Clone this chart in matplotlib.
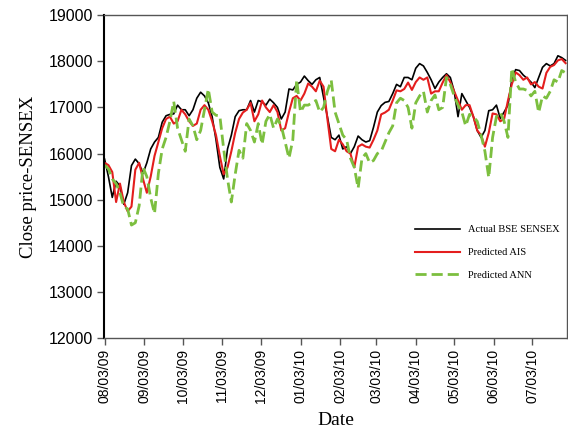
import matplotlib
matplotlib.use("Agg")
import matplotlib.pyplot as plt
import matplotlib.dates as mdates
import pandas as pd

dates = pd.date_range("2009-08-03", periods=121, freq="3D")

actual = [15880, 15500, 15050, 15400, 15300, 14900, 15150, 15740, 15880, 15780,
          15570, 15800, 16100, 16250, 16350, 16680, 16820, 16850, 16860, 17050,
          16950, 16950, 16820, 16950, 17200, 17330, 17250, 17100, 16800, 16300,
          15700, 15450, 16100, 16400, 16800, 16930, 16950, 16950, 17150, 16900,
          17150, 17120, 17050, 17180, 17100, 17000, 16750, 16900, 17400, 17380,
          17500, 17550, 17680, 17580, 17500, 17600, 17650, 17220, 16800, 16350,
          16300, 16400, 16100, 16150, 16000, 16150, 16380, 16300, 16250, 16280,
          16570, 16900, 17040, 17110, 17130, 17300, 17500, 17450, 17650, 17650,
          17600, 17850, 17950, 17900, 17760, 17600, 17410, 17550, 17650, 17730,
          17650, 17350, 16800, 17300, 17150, 17000, 16800, 16500, 16350, 16500,
          16930, 16950, 17050, 16760, 16900, 17050, 17600, 17820, 17800, 17700,
          17630, 17550, 17430, 17650, 17870, 17950, 17900, 17950, 18120, 18080,
          18020]

ais = [15800, 15750, 15600, 14950, 15350, 14950, 14750, 14850, 15650, 15800,
       15450, 15150, 15500, 15950, 16250, 16550, 16750, 16800, 16650, 16700,
       16950, 16850, 16700, 16600, 16650, 16950, 17050, 16950, 16700, 16400,
       15950, 15550, 15700, 16050, 16450, 16750, 16890, 16950, 17100, 16700,
       16850, 17150, 17000, 16900, 17050, 16900, 16500, 16550, 16900, 17200,
       17250, 17150, 17300, 17520, 17450, 17350, 17580, 17450, 16750, 16100,
       16050, 16300, 16200, 16050, 16000, 15700, 16150, 16200, 16150, 16130,
       16300, 16500, 16850, 16890, 16950, 17150, 17370, 17350, 17400, 17540,
       17380, 17550, 17650, 17600, 17650, 17300, 17350, 17350, 17540, 17700,
       17550, 17350, 17150, 16950, 17050, 17050, 16800, 16500, 16400, 16150,
       16450, 16870, 16850, 16700, 16750, 17150, 17500, 17760, 17700, 17600,
       17650, 17500, 17550, 17450, 17410, 17750, 17880, 17920, 18020, 18050,
       17960]

ann = [15750, 15670, 15450, 15350, 15150, 14850, 14800, 14450, 14500, 14870,
       15700, 15500, 15040, 14700, 15570, 16100, 16350, 16700, 17130, 16550,
       16300, 16050, 16750, 16600, 16300, 16500, 16950, 17400, 16900, 16830,
       16820, 16100, 15450, 14950, 15550, 16070, 15900, 16650, 16500, 16250,
       16650, 16200, 16700, 16850, 16550, 16750, 16600, 16250, 15900, 16300,
       17600, 16900, 17050, 17050, 17100, 17150, 16900, 17000, 17350, 17590,
       16900, 16650, 16400, 16300, 15900, 15700, 15250, 15900, 16000, 15800,
       15850, 16000, 16050, 16250, 16450, 16600, 17100, 17200, 17150, 17000,
       16550, 17100, 17250, 17350, 16900, 17150, 17270, 16950, 17000, 17650,
       17500, 17250, 17050, 16900, 16600, 16850, 16800, 16700, 16400, 16050,
       15480, 16350, 16800, 16890, 16700, 16350, 17850, 17550, 17400, 17400,
       17370, 17250, 17350, 16890, 17250, 17200, 17350, 17600, 17550, 17800,
       17750]

labels = ["Actual BSE SENSEX", "Predicted AIS", "Predicted ANN"]
tick_dates = pd.date_range("2009-08-01", periods=12, freq="MS") + pd.Timedelta(days=2)

fig = plt.figure(figsize=(5.68, 4.34), dpi=100)
ax = fig.add_axes([0.183, 0.221, 0.815, 0.744])

ax.plot(dates, actual, color="black", lw=1.2, label=labels[0])
ax.plot(dates, ais, color="#e41e1e", lw=1.5, label=labels[1])
ax.plot(dates, ann, color="#7cbf3f", lw=2.0, ls=(0, (4, 1.8)), label=labels[2])

ax.set_ylim(12000, 19000)
ax.set_yticks(range(12000, 19001, 1000))
ax.set_xlim(dates[0] - pd.Timedelta(days=0.5), dates[0] + pd.Timedelta(days=361))
ax.set_xticks(tick_dates)
ax.xaxis.set_major_formatter(mdates.DateFormatter("%m/%d/%y"))

for lab in ax.get_yticklabels():
    lab.set_family("Liberation Sans")
    lab.set_fontsize(11.5)
for lab in ax.get_xticklabels():
    lab.set_family("Liberation Sans")
    lab.set_fontsize(10)
    lab.set_rotation(90)

ax.tick_params(axis="both", direction="out", length=5, width=1, color="#555555", pad=3)

for s in ["top", "right", "bottom"]:
    ax.spines[s].set_color("#555555")
    ax.spines[s].set_linewidth(1.0)
ax.spines["left"].set_color("black")
ax.spines["left"].set_linewidth(1.5)

ax.set_ylabel("Close price-SENSEX", family="Liberation Serif", fontsize=13.5, labelpad=8)
ax.set_xlabel("Date", family="Liberation Serif", fontsize=14, labelpad=6)

leg = ax.legend(loc="upper left", bbox_to_anchor=(0.672, 0.35), frameon=False,
                prop={"family": "Liberation Serif", "size": 7.5},
                handlelength=4.3, handletextpad=0.8, labelspacing=1.3,
                borderpad=0, borderaxespad=0)

fig.savefig("out.png", dpi=100)
